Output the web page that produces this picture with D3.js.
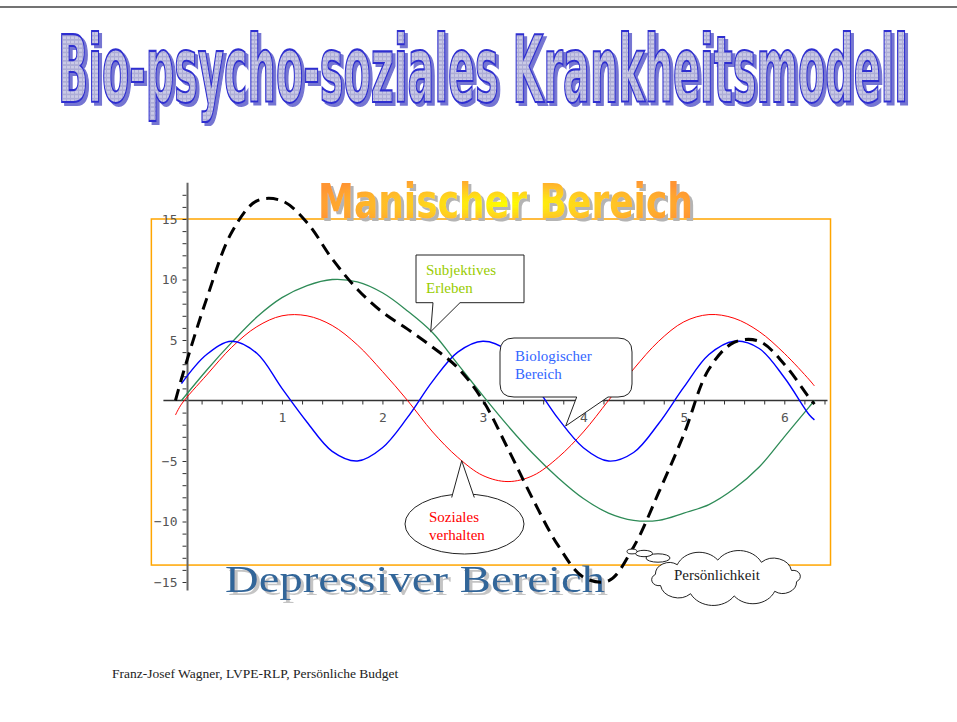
<!DOCTYPE html>
<html>
<head>
<meta charset="utf-8">
<script src="https://cdnjs.cloudflare.com/ajax/libs/d3/7.8.5/d3.min.js"></script>
<style>
  body { margin: 0; background: #fff; }
  svg { display: block; }
  .tick text { font-family: "DejaVu Sans Mono", monospace; font-size: 13px; fill: #555; }
  .tick line { stroke: #333; }
  .callout { fill: #fff; stroke: #222; stroke-width: 1; }
  .ctext { font-family: "Liberation Serif", "Times New Roman", serif; font-size: 15px; }
</style>
</head>
<body>
<svg width="957" height="722"></svg>
<script>
// x values shared by all four curves
var xs = [-0.06, 0, 0.25, 0.5, 0.75, 1, 1.25, 1.5, 1.75, 2, 2.25, 2.5, 2.75, 3, 3.25, 3.5,
          3.75, 4, 4.25, 4.5, 4.75, 5, 5.25, 5.5, 5.75, 6, 6.25, 6.3];

// Subjektives Erleben (green)
var subjektiv = [null, 0, 2.5, 4.8, 6.9, 8.5, 9.5, 10.0, 9.8, 8.9, 7.4, 5.6, 3.0, 0.4, -2.1, -4.4,
                 -6.4, -8.1, -9.3, -9.9, -9.9, -9.3, -8.6, -7.3, -5.5, -3.0, -0.5, 0.0];
// Soziales verhalten (red)
var sozial = [-1.2, -0.3, 2.1, 4.4, 6.1, 7.0, 7.0, 6.2, 4.6, 2.4, 0, -2.6, -4.7, -6.2, -6.7, -6.2,
              -4.7, -2.6, 0, 2.6, 4.9, 6.5, 7.1, 6.8, 5.7, 3.9, 1.7, 1.2];
// Biologischer Bereich (blue)
var biologisch = [null, 1.4, 3.8, 4.9, 3.9, 1.0, -1.8, -4.2, -5.0, -3.9, -1.4, 1.6, 4.0, 4.9, 4.1, 1.5,
                  -1.5, -3.9, -5.0, -4.3, -1.9, 1.1, 3.8, 4.9, 4.3, 1.9, -1.2, -1.6];
// Persoenlichkeit (black dashed)
var persoenlich = [0, 1.8, 8.4, 13.9, 16.5, 16.5, 14.7, 11.7, 9.2, 7.3, 5.9, 4.4, 2.7, 0.0, -4.0, -8.2,
                   -12.0, -14.6, -14.9, -12.1, -7.6, -2.8, 2.6, 4.8, 4.9, 3.0, 0.2, -0.3];

var xTicks = d3.range(1, 33).map(function (i) { return +(i * 0.2).toFixed(1); });
var yTicks = d3.range(-15, 18).filter(function (d) { return d !== 0; });

var svg = d3.select("svg"),
    width = +svg.attr("width"),
    height = +svg.attr("height");

var x = d3.scaleLinear().domain([0, 6]).range([181.5, 784.3]);
var y = d3.scaleLinear().domain([0, 15]).range([400.5, 219]);

var defs = svg.append("defs");

// pattern for the word-art title
var pat = defs.append("pattern")
    .attr("id", "grid")
    .attr("width", 4).attr("height", 2)
    .attr("patternUnits", "userSpaceOnUse");
pat.append("rect").attr("width", 4).attr("height", 2).attr("fill", "#cacae6");
pat.append("path").attr("d", "M0 0.3H4M0.5 0V2").attr("stroke", "#adadd6").attr("stroke-width", 1);

var grad = defs.append("radialGradient")
    .attr("id", "manisch")
    .attr("cx", "0.5").attr("cy", "0.55").attr("r", "0.55");
grad.append("stop").attr("offset", "0%").attr("stop-color", "#ffff00");
grad.append("stop").attr("offset", "50%").attr("stop-color", "#ffc726");
grad.append("stop").attr("offset", "100%").attr("stop-color", "#ff9533");

// drop shadows
function shadow(id, color, dx, dy) {
  var f = defs.append("filter").attr("id", id)
      .attr("x", "-5%").attr("y", "-20%").attr("width", "115%").attr("height", "150%");
  f.append("feOffset").attr("in", "SourceAlpha").attr("dx", dx).attr("dy", dy).attr("result", "off");
  f.append("feFlood").attr("flood-color", color).attr("result", "col");
  f.append("feComposite").attr("in", "col").attr("in2", "off").attr("operator", "in").attr("result", "sh");
  var m = f.append("feMerge");
  m.append("feMergeNode").attr("in", "sh");
  m.append("feMergeNode").attr("in", "SourceGraphic");
}
shadow("shTitle", "#7474d2", 3, 1.3);
shadow("shMan", "#b4b4b4", 3, 2.5);
shadow("shDep", "#c4c4c4", 3, 3);

// top rule
svg.append("line")
    .attr("x1", 0).attr("x2", width)
    .attr("y1", 7).attr("y2", 7)
    .attr("stroke", "#444").attr("stroke-width", 1.5);

// Title
svg.append("g").attr("transform", "translate(58,102) scale(1,2.1)")
  .append("text")
    .attr("textLength", 850).attr("lengthAdjust", "spacingAndGlyphs")
    .style("font-family", "'Liberation Sans Narrow', 'DejaVu Sans Condensed', sans-serif")
    .style("font-weight", "bold").style("font-size", "44px")
    .attr("fill", "url(#grid)")
    .attr("stroke", "#2e2ed0").attr("stroke-width", 1.0)
    .attr("filter", "url(#shTitle)")
    .text("Bio-psycho-soziales Krankheitsmodell");

// orange frame
svg.append("rect")
    .attr("x", x(-0.3)).attr("y", y(15))
    .attr("width", x(6.46) - x(-0.3))
    .attr("height", y(-13.6) - y(15))
    .attr("fill", "none")
    .attr("stroke", "#ffa500").attr("stroke-width", 1.5);

// Manischer Bereich
svg.append("g").attr("transform", "translate(318,218) scale(1,1.2)")
  .append("text")
    .attr("textLength", 375).attr("lengthAdjust", "spacingAndGlyphs")
    .style("font-family", "'Liberation Sans Narrow', 'DejaVu Sans Condensed', sans-serif")
    .style("font-weight", "bold").style("font-size", "40px")
    .attr("fill", "url(#manisch)")
    .attr("filter", "url(#shMan)")
    .text("Manischer Bereich");

// Depressiver Bereich
svg.append("text")
    .attr("x", 225).attr("y", 592)
    .attr("textLength", 380).attr("lengthAdjust", "spacingAndGlyphs")
    .style("font-family", "'Liberation Serif', 'Times New Roman', serif")
    .style("font-size", "37px")
    .attr("fill", "#336699")
    .attr("filter", "url(#shDep)")
    .text("Depressiver Bereich");

// axes
var xAxis = d3.axisBottom(x)
    .tickValues(xTicks)
    .tickSize(4)
    .tickPadding(8)
    .tickFormat(function (d) { return Number.isInteger(d) ? d : ""; });
var gx = svg.append("g")
    .attr("transform", "translate(0," + y(0) + ")")
    .call(xAxis);
gx.select(".domain").remove();
svg.append("line")
    .attr("x1", x(-0.18)).attr("x2", x(6.43))
    .attr("y1", y(0)).attr("y2", y(0))
    .attr("stroke", "#333").attr("stroke-width", 1.5);

var yAxis = d3.axisLeft(y)
    .tickValues(yTicks)
    .tickSize(4)
    .tickPadding(5)
    .tickFormat(function (d) { return d % 5 === 0 ? d3.format("")(d) : ""; });
var gy = svg.append("g")
    .attr("transform", "translate(" + (x(0.06) - 1) + ",0)")
    .call(yAxis);
gy.select(".domain").remove();
svg.append("line")
    .attr("x1", x(0.06)).attr("x2", x(0.06))
    .attr("y1", y(18)).attr("y2", y(-15.7))
    .attr("stroke", "#666").attr("stroke-width", 2);

// curves
var series = [
  { values: subjektiv,   color: "#2e8b57", width: 1.3, dash: null },
  { values: sozial,      color: "#ff0000", width: 1,   dash: null },
  { values: biologisch,  color: "#0000ff", width: 1.4, dash: null },
  { values: persoenlich, color: "#000000", width: 3,   dash: "12,7" }
];

var line = d3.line()
    .defined(function (d) { return d[1] !== null; })
    .x(function (d) { return x(d[0]); })
    .y(function (d) { return y(d[1]); })
    .curve(d3.curveCatmullRom.alpha(0.5));

svg.append("g").selectAll("path")
  .data(series)
  .enter().append("path")
    .attr("d", function (s) { return line(xs.map(function (v, i) { return [v, s.values[i]]; })); })
    .attr("fill", "none")
    .attr("stroke", function (s) { return s.color; })
    .attr("stroke-width", function (s) { return s.width; })
    .attr("stroke-dasharray", function (s) { return s.dash; });

// callouts
var co = svg.append("g");

// Subjektives Erleben
co.append("path").attr("class", "callout")
  .attr("d", "M416,255H524V302.7H460L430.7,331.7L433,302.7H416Z");
co.append("text").attr("class", "ctext").attr("fill", "#99cc00")
  .selectAll("tspan").data(["Subjektives", "Erleben"]).enter().append("tspan")
    .attr("x", 426).attr("y", function (d, i) { return 275 + i * 18; })
    .text(function (d) { return d; });

// Biologischer Bereich
co.append("path").attr("class", "callout")
  .attr("d", "M514,338H618Q632,338 632,352V384Q632,397 618,397H608L565.7,426L576.7,397H514Q500,397 500,384V352Q500,338 514,338Z");
co.append("text").attr("class", "ctext").attr("fill", "#3366ff")
  .selectAll("tspan").data(["Biologischer", "Bereich"]).enter().append("tspan")
    .attr("x", 515).attr("y", function (d, i) { return 361 + i * 18; })
    .text(function (d) { return d; });

// Soziales verhalten
co.append("ellipse").attr("class", "callout")
  .attr("cx", 464.5).attr("cy", 524).attr("rx", 59.5).attr("ry", 30);
co.append("path").attr("class", "callout")
  .attr("d", "M451.7,497.5L461.7,460.7L474.3,497.5");
co.append("text").attr("class", "ctext").attr("fill", "#ff0000")
  .selectAll("tspan").data(["Soziales", "verhalten"]).enter().append("tspan")
    .attr("x", 429).attr("y", function (d, i) { return 521.5 + i * 18; })
    .text(function (d) { return d; });

// Persoenlichkeit cloud
function cloudPath(cx, cy, rx, ry, n) {
  var pts = d3.range(n + 1).map(function (i) {
    var t = Math.PI * 2 * i / n + 0.2;
    return [cx + rx * Math.cos(t), cy + ry * Math.sin(t)];
  });
  var d = "M" + pts[0][0].toFixed(1) + "," + pts[0][1].toFixed(1);
  for (var i = 1; i < pts.length; i++) {
    var dx = pts[i][0] - pts[i - 1][0], dy = pts[i][1] - pts[i - 1][1];
    var r = Math.sqrt(dx * dx + dy * dy) * 0.58;
    d += "A" + r.toFixed(1) + "," + (r * 0.85).toFixed(1) + " 0 0 1 " + pts[i][0].toFixed(1) + "," + pts[i][1].toFixed(1);
  }
  return d + "Z";
}
co.append("path").attr("class", "callout").attr("d", cloudPath(726, 578, 72, 18, 10));
[[658, 558, 12, 4.2], [644, 553.5, 8.5, 3.2], [632, 551.5, 5, 2.4]].forEach(function (b) {
  co.append("ellipse").attr("class", "callout")
    .attr("cx", b[0]).attr("cy", b[1]).attr("rx", b[2]).attr("ry", b[3]);
});
co.append("text").attr("class", "ctext").attr("fill", "#222")
  .attr("x", 674).attr("y", 579.5)
  .text("Persönlichkeit");

// footer
svg.append("text")
  .attr("x", 112).attr("y", 678)
  .style("font-family", "'Liberation Serif', 'Times New Roman', serif")
  .style("font-size", "13.5px")
  .attr("fill", "#222")
  .text("Franz-Josef Wagner, LVPE-RLP, Persönliche Budget");
</script>
</body>
</html>
